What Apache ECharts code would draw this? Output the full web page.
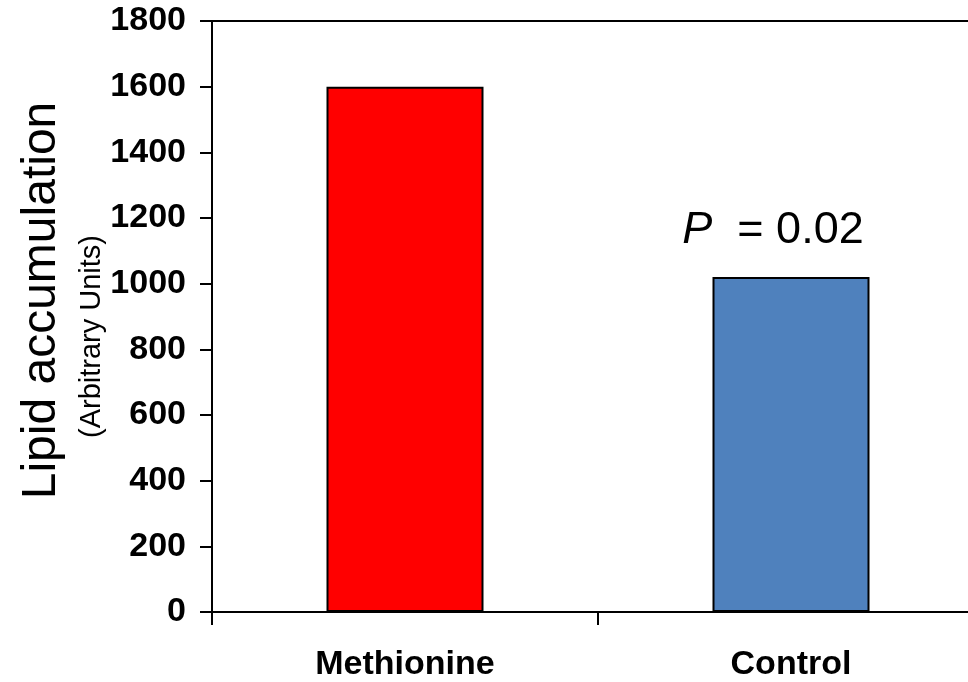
<!DOCTYPE html>
<html>
<head>
<meta charset="utf-8">
<script src="https://cdn.jsdelivr.net/npm/echarts@6/dist/echarts.min.js"></script>
<style>html,body{margin:0;padding:0;background:#fff;overflow:hidden}#c{width:984px;height:682px}</style>
</head>
<body>
<div id="c"></div>
<script>
const categories = ['Methionine', 'Control'];
const values = [1600, 1020];
const barColors = ['#FF0000', '#4F81BD'];
const yMin = 0, yMax = 1800, yStep = 200;
const yTitle = 'Lipid accumulation';
const ySubtitle = '(Arbitrary Units)';
const annotation = '= 0.02';

const FONT = "'Liberation Sans', Arial, sans-serif";
const chart = echarts.init(document.getElementById('c'), null, {renderer: 'canvas'});
chart.setOption({
  animation: false,
  backgroundColor: '#fff',
  grid: {left: 212, right: 0, top: 21, bottom: 70, containLabel: false},
  xAxis: [{
    type: 'category', data: categories, position: 'bottom',
    axisLine: {show: true, onZero: false, lineStyle: {color: '#000', width: 2}},
    axisTick: {show: true, length: 13, lineStyle: {color: '#000', width: 2}},
    axisLabel: {color: '#000', fontFamily: FONT, fontWeight: 'bold', fontSize: 34, margin: 36}
  }, {
    type: 'category', data: categories, position: 'top',
    axisLine: {show: true, onZero: false, lineStyle: {color: '#000', width: 2}},
    axisTick: {show: false}, axisLabel: {show: false}
  }],
  yAxis: [{
    type: 'value', min: yMin, max: yMax, interval: yStep, position: 'left',
    axisLine: {show: true, onZero: false, lineStyle: {color: '#000', width: 2}},
    axisTick: {show: true, length: 12, lineStyle: {color: '#000', width: 2}},
    splitLine: {show: false},
    axisLabel: {color: '#000', fontFamily: FONT, fontWeight: 'bold', fontSize: 34, margin: 26,
      formatter: v => String(v)},
    name: yTitle, nameLocation: 'middle', nameRotate: 90, nameGap: 146,
    nameTextStyle: {color: '#000', fontFamily: FONT, fontSize: 48, padding: [0, 0, 0, 32]}
  }, {
    type: 'value', min: yMin, max: yMax, interval: yStep, position: 'left',
    axisLine: {show: false}, axisTick: {show: false}, axisLabel: {show: false}, splitLine: {show: false},
    name: ySubtitle, nameLocation: 'middle', nameRotate: 90, nameGap: 106,
    nameTextStyle: {color: '#000', fontFamily: FONT, fontSize: 29, padding: [0, 40, 0, 0]}
  }],
  series: [{
    type: 'bar', xAxisIndex: 0, yAxisIndex: 0, barWidth: 157,
    data: values.map((v, i) => ({
      value: v,
      itemStyle: {color: barColors[i], borderColor: '#000', borderWidth: 2},
      label: i === 1 ? {
        show: true, position: 'top', distance: 24, offset: [-18, 0],
        formatter: '{p|P}  ' + annotation,
        color: '#000', fontFamily: FONT, fontSize: 45,
        rich: {p: {fontStyle: 'italic', fontFamily: FONT, fontSize: 45, color: '#000'}}
      } : {show: false}
    }))
  }]
});
</script>
</body>
</html>
